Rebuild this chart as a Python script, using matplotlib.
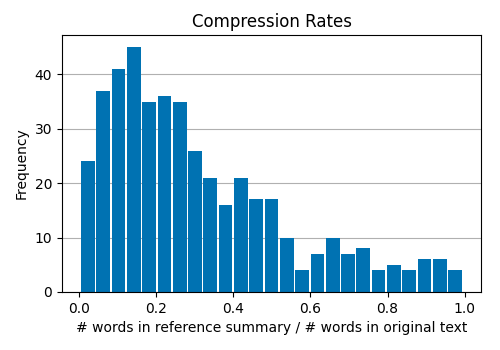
import numpy as np
import matplotlib.pyplot as plt

# bin counts
counts = [24, 37, 41, 45, 35, 36, 35, 26, 21, 16, 21, 17, 17,
          10, 4, 7, 10, 7, 8, 4, 5, 4, 6, 6, 4]
lo, hi = 0.003, 0.995
edges = np.linspace(lo, hi, len(counts) + 1)

fig, ax = plt.subplots(figsize=(5, 3.5), dpi=100)
ax.hist(edges[:-1], bins=edges, weights=counts, rwidth=0.9, color='#0072B2')
ax.set_axisbelow(True)
ax.yaxis.grid(True, color='#b0b0b0')
ax.set_title('Compression Rates')
ax.set_xlabel('# words in reference summary / # words in original text')
ax.set_ylabel('Frequency')
plt.subplots_adjust(left=0.124, right=0.962, bottom=0.166, top=0.9)
plt.savefig('out.png')
